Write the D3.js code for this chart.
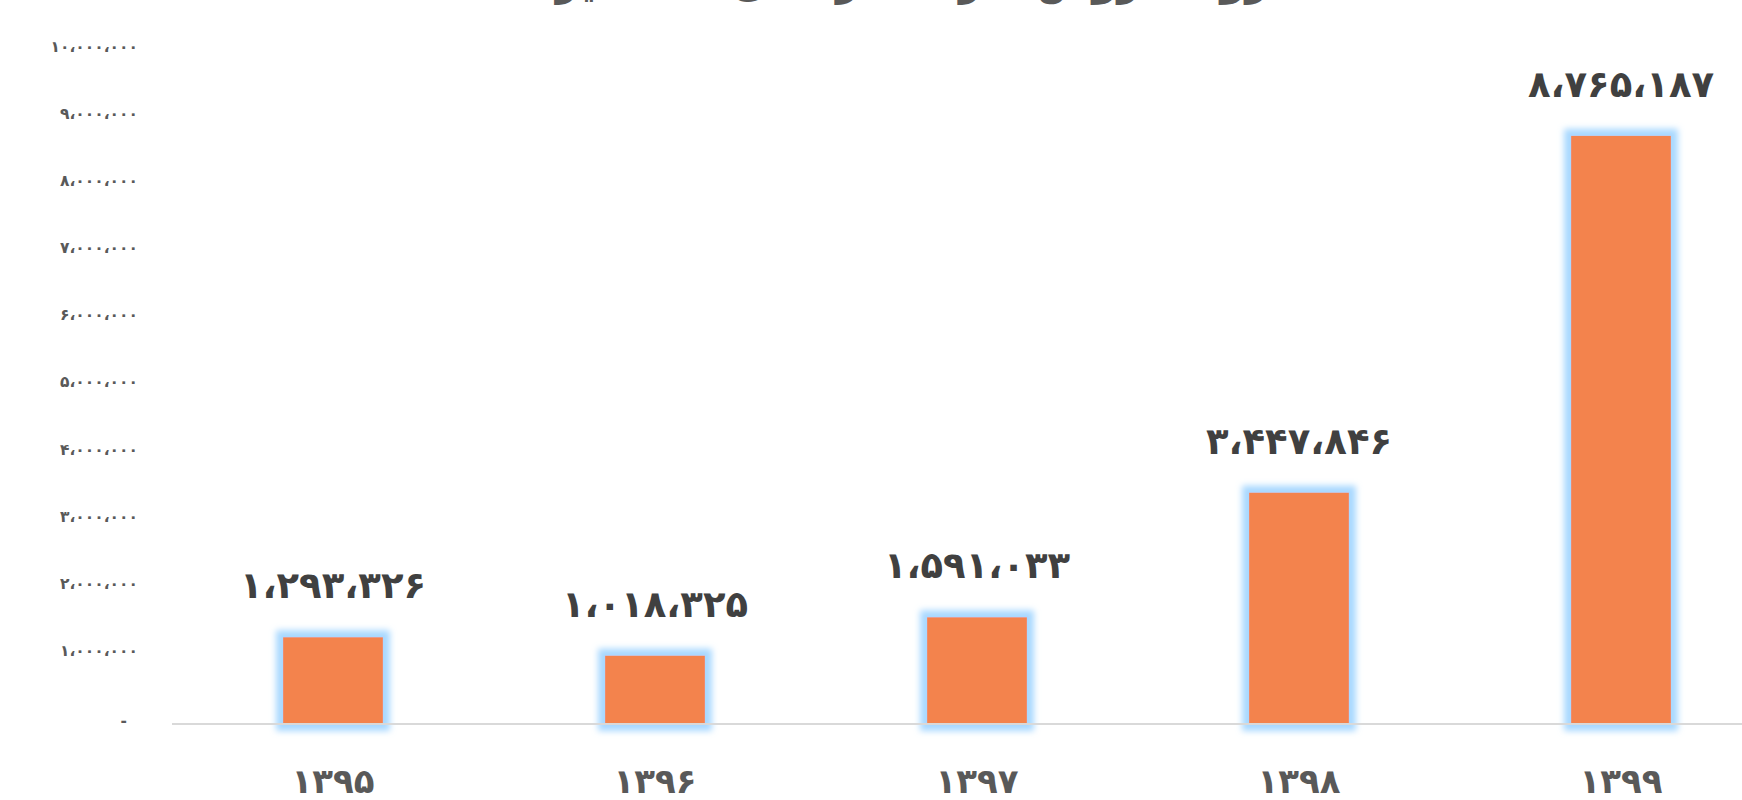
<!DOCTYPE html>
<html lang="fa">
<head>
<meta charset="utf-8">
<script src="https://cdn.jsdelivr.net/npm/d3@7"></script>
<style>
  html, body { margin: 0; padding: 0; background: #ffffff; overflow: hidden; }
  svg { display: block; }
</style>
</head>
<body>
<svg id="chart" width="1742" height="800"></svg>
<script>
// ---- data ----
const titleText = "روند فروش شرکت در سال‌های اخیر";
const categories = ["۱۳۹۵", "۱۳۹۶", "۱۳۹۷", "۱۳۹۸", "۱۳۹۹"];
const values = [1293326, 1018325, 1591033, 3447846, 8765187];
const yTicks = [0, 1000000, 2000000, 3000000, 4000000, 5000000, 6000000, 7000000, 8000000, 9000000, 10000000];

// ---- helpers ----
const faDigits = "۰۱۲۳۴۵۶۷۸۹";
function toFa(n) {
  return d3.format(",")(n).replace(/\d/g, d => faDigits[+d]).replace(/,/g, "،");
}

const svg = d3.select("#chart");
const W = 1742, H = 800;

const x = d3.scaleBand()
  .domain(categories)
  .range([172, 1782])
  .paddingInner(0.69)
  .paddingOuter(0.345);

const y = d3.scaleLinear()
  .domain([0, 10000000])
  .range([724, 53]);

// glow filter
const defs = svg.append("defs");
const f = defs.append("filter").attr("id", "glow")
  .attr("x", "-40%").attr("y", "-40%").attr("width", "180%").attr("height", "180%");
f.append("feMorphology").attr("in", "SourceAlpha").attr("operator", "dilate").attr("radius", 7).attr("result", "dil");
f.append("feGaussianBlur").attr("in", "dil").attr("stdDeviation", 3).attr("result", "blur");
f.append("feFlood").attr("flood-color", "#a8d8ff").attr("flood-opacity", 1).attr("result", "col");
f.append("feComposite").attr("in", "col").attr("in2", "blur").attr("operator", "in").attr("result", "glowc");
const fm = f.append("feMerge");
fm.append("feMergeNode").attr("in", "glowc");
fm.append("feMergeNode").attr("in", "SourceGraphic");

// title (mostly cropped at top of image, as in the reference)
svg.append("text")
  .attr("x", 912)
  .attr("y", -5)
  .attr("text-anchor", "middle")
  .attr("direction", "rtl")
  .attr("font-family", "DejaVu Sans, sans-serif")
  .attr("font-weight", "bold")
  .attr("font-size", 40)
  .attr("fill", "#595959")
  .text(titleText);

// y axis (labels only)
const yAxis = d3.axisLeft(y)
  .tickValues(yTicks)
  .tickSize(0)
  .tickPadding(0)
  .tickFormat(d => d === 0 ? "-" : toFa(d));
const gy = svg.append("g")
  .attr("transform", "translate(138,0)")
  .call(yAxis);
gy.select(".domain").remove();
gy.selectAll("text")
  .attr("font-family", "DejaVu Sans, sans-serif")
  .attr("font-weight", "bold")
  .attr("font-size", 15.5)
  .attr("fill", "#595959")
  .attr("dy", "-0.1em")
  .attr("text-anchor", "end");
gy.selectAll(".tick").filter(d => d === 0).select("text")
  .attr("x", -11)
  .attr("dy", "0.1em");

// bars
svg.append("g").selectAll("rect")
  .data(values)
  .join("rect")
  .attr("x", (d, i) => x(categories[i]))
  .attr("y", d => y(d))
  .attr("width", x.bandwidth())
  .attr("height", d => y(0) - y(d))
  .attr("fill", "#f3834d")
  .attr("filter", "url(#glow)");

// baseline
svg.append("line")
  .attr("x1", 172).attr("x2", W)
  .attr("y1", y(0)).attr("y2", y(0))
  .attr("stroke", "#d9d9d9")
  .attr("stroke-width", 2);

// x axis labels
const xAxis = d3.axisBottom(x).tickSize(0).tickPadding(0);
const gx = svg.append("g")
  .attr("transform", `translate(0,${y(0)})`)
  .call(xAxis);
gx.select(".domain").remove();
gx.selectAll("text")
  .attr("font-family", "DejaVu Sans, sans-serif")
  .attr("font-weight", "bold")
  .attr("font-size", 34)
  .attr("fill", "#595959")
  .attr("y", 57)
  .attr("dy", "0.35em");

// data labels
svg.append("g").selectAll("text")
  .data(values)
  .join("text")
  .attr("x", (d, i) => x(categories[i]) + x.bandwidth() / 2)
  .attr("y", d => y(d) - 52)
  .attr("dy", "0.35em")
  .attr("text-anchor", "middle")
  .attr("font-family", "DejaVu Sans, sans-serif")
  .attr("font-weight", "bold")
  .attr("font-size", 37)
  .attr("fill", "#404040")
  .text(d => toFa(d));
</script>
</body>
</html>
